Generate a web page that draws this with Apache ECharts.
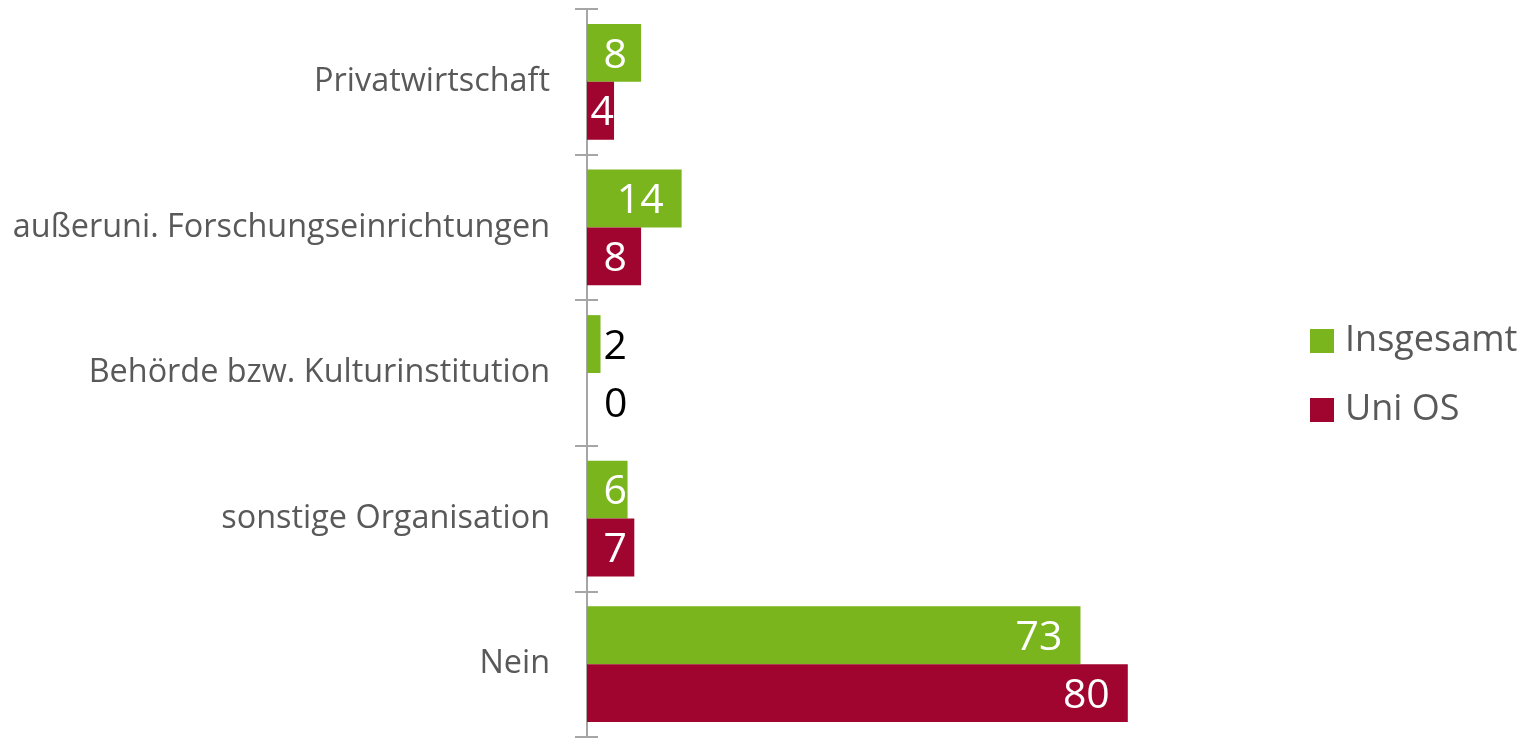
<!DOCTYPE html>
<html>
<head>
<meta charset="utf-8">
<script src="https://cdn.jsdelivr.net/npm/echarts@6/dist/echarts.min.js"></script>
<style>
html,body{margin:0;padding:0;background:#fff;}
#c{width:1537px;height:738px;}
</style>
</head>
<body>
<div id="c"></div>
<script>
const categories = ['Privatwirtschaft', 'außeruni. Forschungseinrichtungen', 'Behörde bzw. Kulturinstitution', 'sonstige Organisation', 'Nein'];
const seriesNames = ['Insgesamt', 'Uni OS'];
const insgesamt = [8, 14, 2, 6, 73];
const uniOS = [4, 8, 0, 7, 80];

const COLORS = ['#7AB51D', '#A0052F'];
const GRID_LEFT = 587, GRID_RIGHT = 274, X_MAX = 100;
const pxPerUnit = (1537 - GRID_LEFT - GRID_RIGHT) / X_MAX;
const LABEL_FONT = 41, DIGIT_W = 23;

function buildData(values) {
  return values.map(v => {
    const barPx = v * pxPerUnit;
    const textW = String(v).length * DIGIT_W;
    if (barPx < textW) {
      return { value: v, label: { position: 'right', color: '#000', distance: v === 0 ? 17 : 3 } };
    }
    const d = Math.max(0, Math.min(18, barPx - textW - 17));
    return { value: v, label: { position: 'insideRight', color: '#fff', distance: d } };
  });
}

const chart = echarts.init(document.getElementById('c'), null, { renderer: 'canvas' });
const axisLineStyle = { color: '#A6A6A6', width: 2 };
chart.setOption({
  animation: false,
  textStyle: { fontFamily: 'Open Sans' },
  grid: { left: GRID_LEFT, right: GRID_RIGHT, top: 9, bottom: 1, containLabel: false },
  legend: {
    orient: 'vertical',
    left: 1310,
    top: 323,
    padding: 0,
    itemWidth: 24,
    itemHeight: 24,
    itemGap: 33,
    icon: 'rect',
    data: seriesNames,
    textStyle: { fontFamily: 'Open Sans', fontSize: 36, color: '#595959', lineHeight: 24, padding: [2, 0, 0, 6] }
  },
  xAxis: {
    type: 'value', min: 0, max: X_MAX, show: false
  },
  yAxis: [{
    type: 'category',
    data: categories,
    inverse: true,
    axisLine: { show: true, lineStyle: axisLineStyle },
    axisTick: { show: true, length: 12, lineStyle: axisLineStyle },
    axisLabel: { margin: 37, fontSize: 32.4, color: '#595959', fontFamily: 'Open Sans', padding: [4, 0, 0, 0] },
    splitLine: { show: false }
  }, {
    type: 'category',
    data: categories,
    inverse: true,
    position: 'left',
    axisLine: { show: false },
    axisTick: { show: true, inside: true, length: 11, lineStyle: axisLineStyle },
    axisLabel: { show: false },
    splitLine: { show: false }
  }],
  series: [
    {
      name: seriesNames[0], type: 'bar', yAxisIndex: 0,
      data: buildData(insgesamt),
      itemStyle: { color: COLORS[0] },
      barGap: '0%', barCategoryGap: '20.5%',
      label: { show: true, fontSize: LABEL_FONT, fontFamily: 'Open Sans', offset: [0, 3] },
      z: 1
    },
    {
      name: seriesNames[1], type: 'bar', yAxisIndex: 0,
      data: buildData(uniOS),
      itemStyle: { color: COLORS[1] },
      barGap: '0%', barCategoryGap: '20.5%',
      label: { show: true, fontSize: LABEL_FONT, fontFamily: 'Open Sans', offset: [0, 3] },
      z: 1
    }
  ]
});
</script>
</body>
</html>
